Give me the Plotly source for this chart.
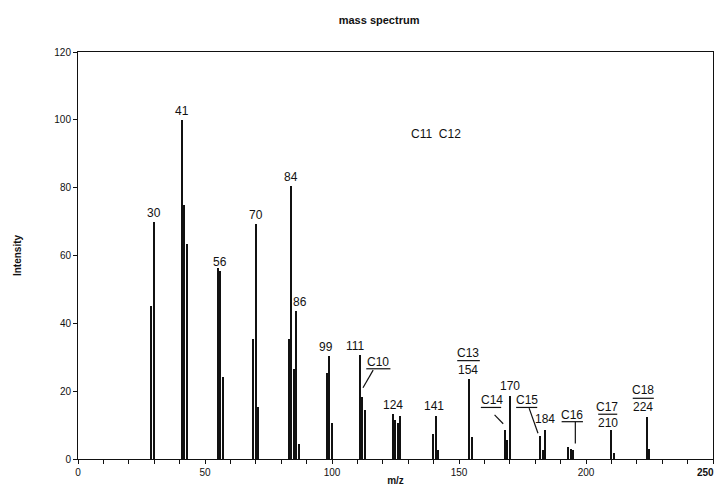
import plotly.graph_objects as go

# ---- data ----
mz = [29, 30, 41, 42, 43, 55, 56, 57, 69, 70, 71, 83, 84, 85, 86, 87,
      98, 99, 100, 111, 112, 113, 124, 125, 126, 127, 140, 141, 142,
      154, 155, 168, 169, 170, 182, 183, 184, 193, 194, 195, 210, 211, 224, 225]
intensity = [45, 70, 100, 75, 63.4, 56.2, 55.5, 24.3, 35.3, 69.4, 15.4,
             35.4, 80.5, 26.5, 43.5, 4.4, 25.5, 30.4, 10.5, 30.7, 18.4, 14.5,
             13.3, 11.5, 10.7, 12.6, 7.5, 12.6, 2.8, 23.5, 6.5, 8.5, 5.6, 18.6,
             6.8, 2.7, 8.5, 3.6, 3.0, 2.7, 8.5, 1.7, 12.5, 2.9]

peak_labels = ["30", "41", "56", "70", "84", "86", "99", "111", "124", "141", "170"]
peak_label_mz = [30, 41, 56, 70, 84, 86, 99, 111, 124, 141, 170]

x_tick_vals = [0, 50, 100, 150, 200, 250]
y_tick_vals = [0, 20, 40, 60, 80, 100, 120]

title_text = "mass spectrum"
x_title = "m/z"
y_title = "Intensity"

fig = go.Figure()
fig.add_trace(go.Bar(x=mz, y=intensity, width=0.55,
                     marker=dict(color="#111111", line=dict(width=0))))

lookup = dict(zip(mz, intensity))
shifts = {"86": (4, 0), "99": (-3, 0), "111": (-4, 0), "124": (0, 0), "141": (-2, 1), "170": (0, 1)}
font_lbl = dict(family="Liberation Sans, Arial", size=12, color="#111111")
for t, m in zip(peak_labels, peak_label_mz):
    dx, dy = shifts.get(t, (0, 0))
    fig.add_annotation(x=m, y=lookup[m], text=t, showarrow=False, yanchor="bottom",
                       xshift=dx, yshift=dy, font=font_lbl)

def ul(x0, x1, y):
    fig.add_shape(type="line", x0=x0, x1=x1, y0=y, y1=y, line=dict(color="#111111", width=1.2))

def seg(x0, y0, x1, y1):
    fig.add_shape(type="line", x0=x0, x1=x1, y0=y0, y1=y1, line=dict(color="#111111", width=1.2))

def txt(x, y, s):
    fig.add_annotation(x=x, y=y, text=s, showarrow=False, font=font_lbl)

# C10
txt(118.3, 28.6, "C10"); ul(113.5, 123, 26.6); seg(116.2, 26.2, 112.2, 21.0)
# C13 / 154
txt(153.7, 31.3, "C13"); ul(149.3, 158.2, 29.0); txt(153.7, 26.3, "154")
# C14
txt(162.8, 17.5, "C14"); ul(158.6, 166.6, 15.2); seg(164.0, 13.0, 167.4, 10.4)
# C15 / 184
txt(176.6, 17.5, "C15"); ul(172.5, 180.8, 15.2); seg(177.6, 15.0, 181.1, 7.6)
txt(184.0, 11.8, "184")
# C16
txt(194.6, 12.9, "C16"); ul(190.4, 198.8, 11.0); seg(195.8, 11.0, 195.8, 4.6)
# C17 / 210
txt(208.4, 15.4, "C17"); ul(204.8, 212.3, 13.2); txt(208.6, 10.6, "210")
# C18 / 224
txt(222.6, 20.2, "C18"); ul(218.4, 226.7, 17.9); txt(222.6, 15.3, "224")
# C11 C12
txt(141.0, 95.8, "C11  C12")

tickfont = dict(family="Liberation Sans, Arial", size=10, color="#111111")
# last x tick label sits on the figure edge; plotly would drop it, so draw it as text
fig.add_annotation(x=x_tick_vals[-1], y=0, yref="y", text="<b>%d</b>" % x_tick_vals[-1],
                   showarrow=False, xanchor="right", xshift=3, yanchor="top", yshift=-6,
                   font=tickfont)

fig.update_layout(
    width=715, height=478,
    margin=dict(l=70, r=10, t=44, b=27, autoexpand=False),
    paper_bgcolor="white", plot_bgcolor="white",
    showlegend=False,
    title=dict(text="<b>%s</b>" % title_text, x=0.519, xanchor="center", y=0.975, yanchor="middle",
               yref="container", font=dict(family="Liberation Sans, Arial", size=11, color="#111111")),
    xaxis=dict(range=[0, 250], tickmode="array", tickvals=x_tick_vals[:-1],
               ticks="outside", ticklen=4, tickcolor="#111111",
               minor=dict(dtick=10, tick0=0, ticks="outside", ticklen=4, tickcolor="#111111"),
               showline=True, linecolor="#111111", linewidth=1, mirror=True, automargin=False,
               showgrid=False, zeroline=False, tickfont=tickfont,
               tickprefix="<b>", ticksuffix="</b>",
               title=dict(text="<b>%s</b>" % x_title, standoff=3,
                          font=dict(family="Liberation Sans, Arial", size=10, color="#111111"))),
    yaxis=dict(range=[0, 120], tickmode="array", tickvals=y_tick_vals,
               ticks="outside", ticklen=4, tickcolor="#111111",
               showline=True, linecolor="#111111", linewidth=1, mirror=True, automargin=False,
               showgrid=False, zeroline=False, tickfont=tickfont,
               tickprefix="<b>", ticksuffix="</b>",
               title=dict(text="<b>%s</b>" % y_title, standoff=30,
                          font=dict(family="Liberation Sans, Arial", size=10, color="#111111"))),
    bargap=0,
)
fig.write_html("out.html")
